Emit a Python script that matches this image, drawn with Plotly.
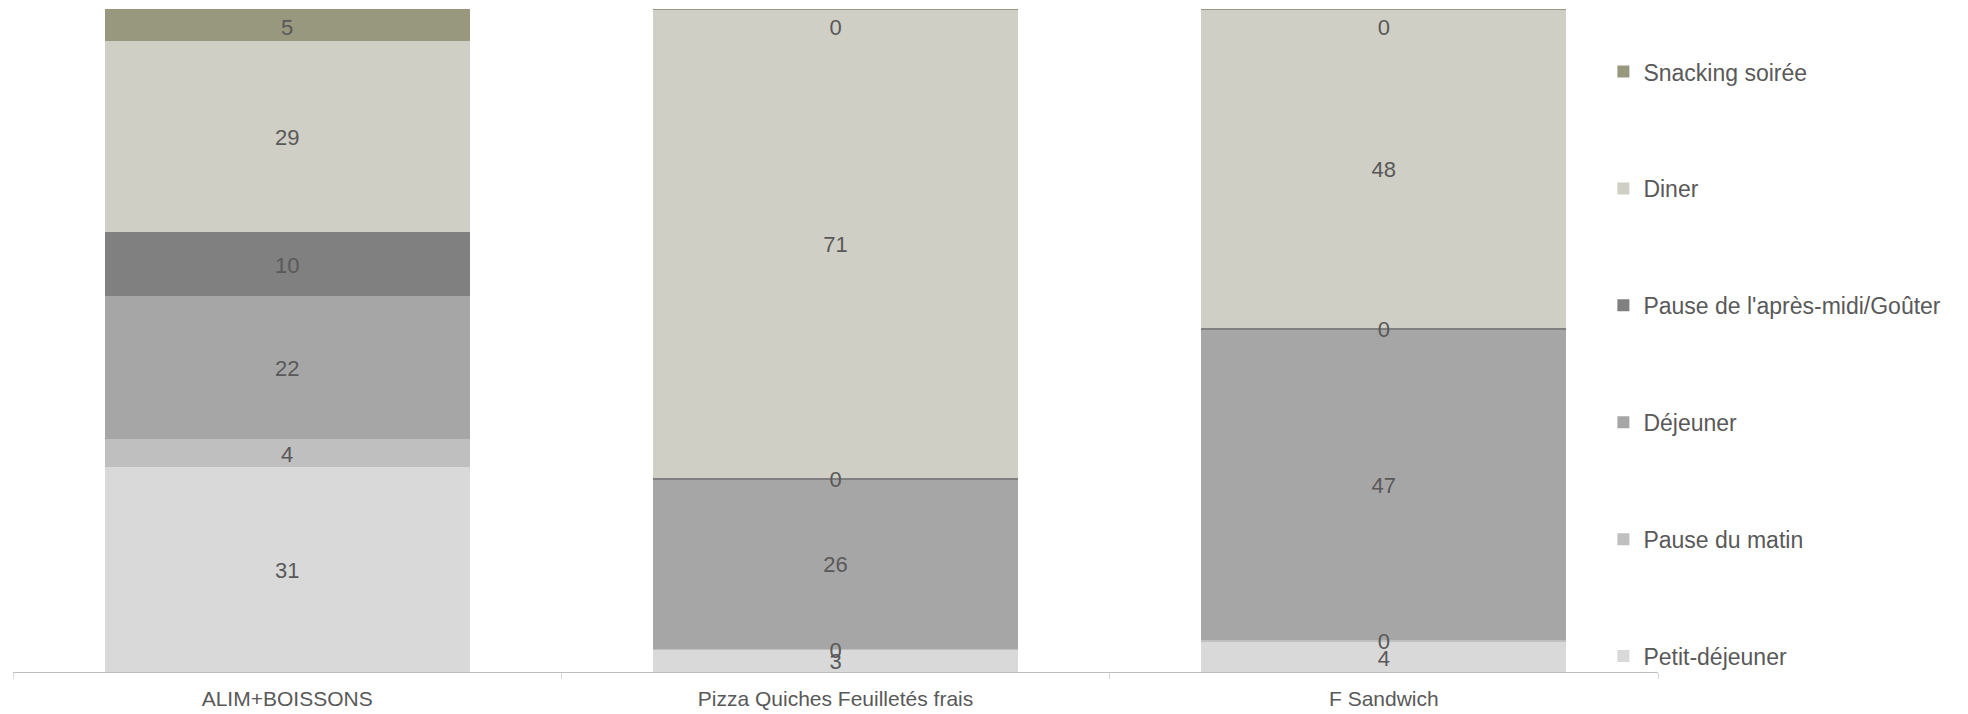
import plotly.graph_objects as go

categories = ["ALIM+BOISSONS", "Pizza Quiches Feuilletés frais", "F Sandwich"]

series_names = ["Petit-déjeuner", "Pause du matin", "Déjeuner",
                "Pause de l'après-midi/Goûter", "Diner", "Snacking soirée"]

petit_dejeuner = [30.9, 3.4, 4.5]
pause_matin = [4.2, 0.1, 0.4]
dejeuner = [21.6, 25.6, 46.8]
gouter = [9.6, 0.2, 0.2]
diner = [28.8, 70.6, 48.0]
snacking = [4.9, 0.1, 0.1]

colors = ["#D9D9D9", "#BFBFBF", "#A6A6A6", "#808080", "#CFCFC6", "#98987F"]

series_values = [petit_dejeuner, pause_matin, dejeuner, gouter, diner, snacking]

# page body has an 8px margin; figure sized to fit the window
W, H = 1960, 706
L, R, T, B = 5, 310, 1, 42
FONT = "Liberation Sans, Arial, sans-serif"
TXT = "#595959"
LABEL_TOP_LIMIT = 97.4  # keep labels inside plot area (like Excel)
LABEL_DY = 0.45         # small downward nudge for optical centring

fig = go.Figure()
n = len(series_names)
bases = [0.0] * len(categories)
label_x, label_y, label_t = [], [], []
for i, (name, vals) in enumerate(zip(series_names, series_values)):
    fig.add_trace(go.Bar(
        x=categories, y=vals, name=name,
        marker=dict(color=colors[i], line=dict(width=0)),
        legendrank=n - i,
        legendgroup=f"g{i}",
        hoverinfo="skip",
    ))
    for j, v in enumerate(vals):
        label_x.append(categories[j])
        label_y.append(min(bases[j] + v / 2, LABEL_TOP_LIMIT) - LABEL_DY)
        label_t.append(f"{v:.0f}")
        bases[j] += v

fig.add_trace(go.Scatter(
    x=label_x, y=label_y, text=label_t, mode="text",
    textposition="middle center",
    textfont=dict(family=FONT, size=22, color=TXT),
    showlegend=False, hoverinfo="skip", cliponaxis=False,
))

fig.update_layout(
    width=W, height=H,
    margin=dict(l=L, r=R, t=T, b=B, autoexpand=False),
    barmode="stack", bargap=0.334,
    plot_bgcolor="white", paper_bgcolor="white",
    font=dict(family=FONT, size=21, color=TXT),
    showlegend=True,
    legend=dict(
        traceorder="grouped", tracegroupgap=84,
        x=0.9668, xanchor="left", y=0.938, yanchor="top",
        font=dict(family=FONT, size=23, color=TXT),
        bgcolor="rgba(0,0,0,0)", borderwidth=0,
    ),
    xaxis=dict(
        showline=True, linecolor="#BFBFBF", linewidth=1,
        ticks="outside", tickson="boundaries", ticklen=6, tickcolor="#D9D9D9",
        tickfont=dict(family=FONT, size=21, color=TXT),
        ticklabelstandoff=8,
        showgrid=False, zeroline=False,
    ),
    yaxis=dict(range=[0, 100], visible=False, showgrid=False, zeroline=False),
)

fig.write_html("out.html")
